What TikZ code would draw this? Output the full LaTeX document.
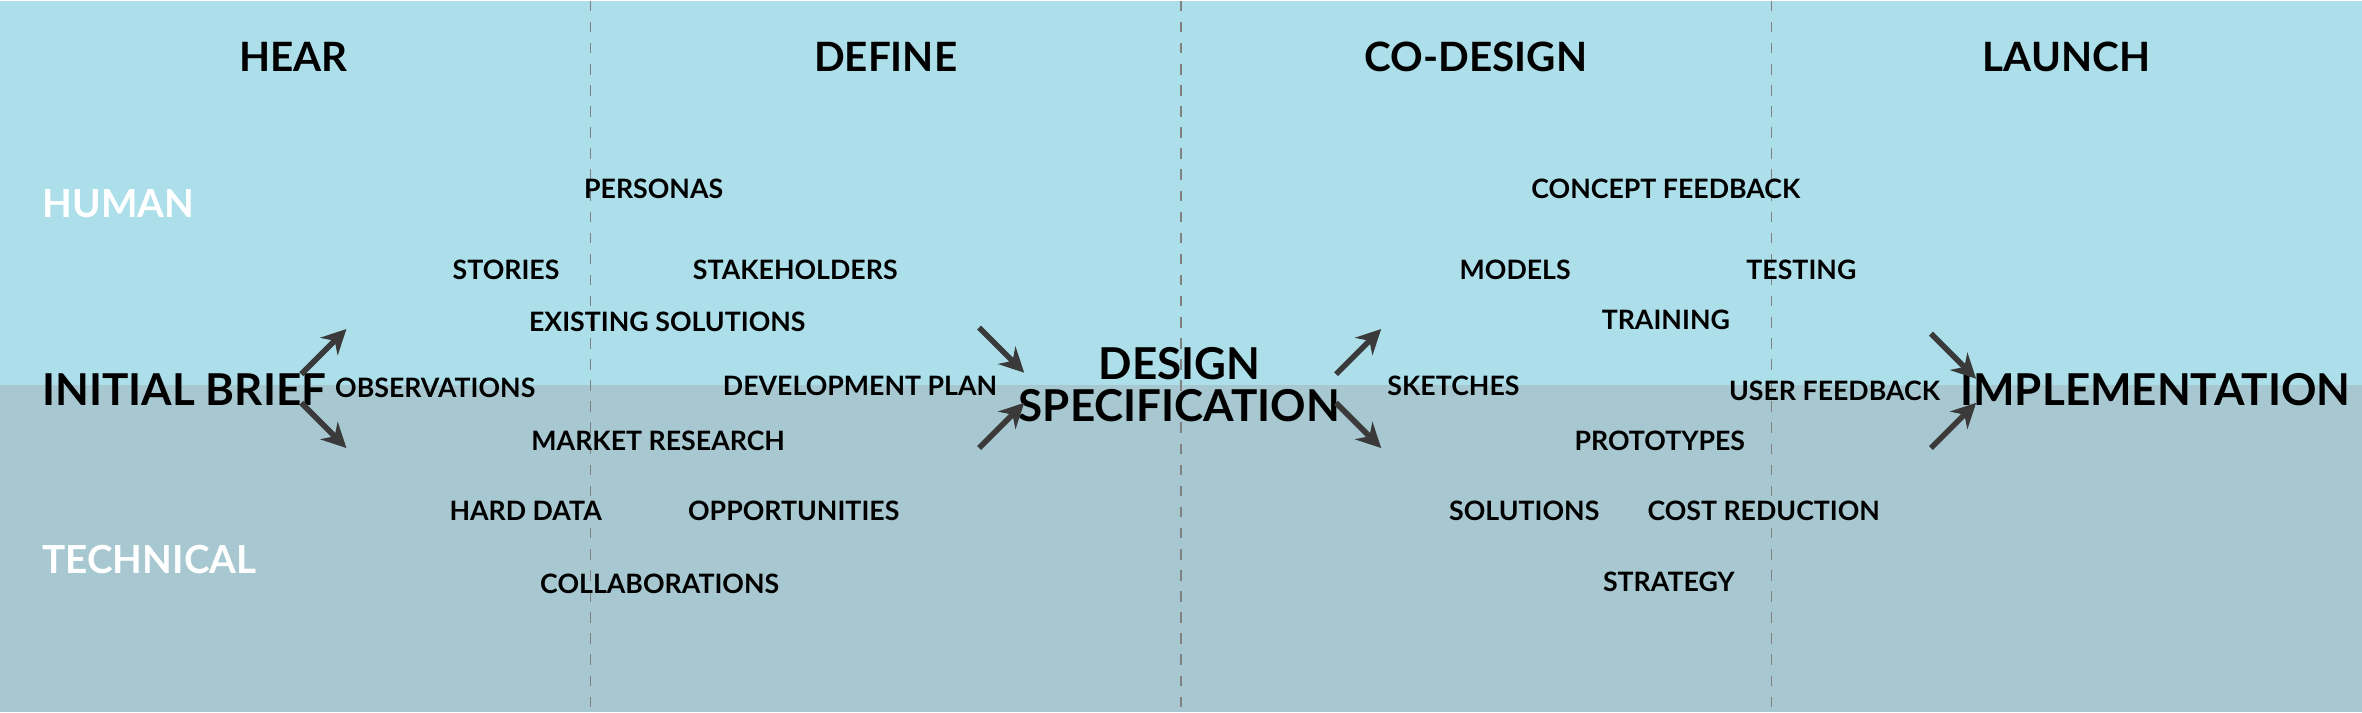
\documentclass[tikz,border=0pt]{standalone}
\usepackage{fontspec}
\setmainfont{Lato}
\usetikzlibrary{arrows.meta}
\definecolor{topblue}{HTML}{ADDFEA}
\definecolor{lowblue}{HTML}{A7C8D0}
\definecolor{arrowgray}{HTML}{3A3A3A}
\tikzset{
	phase/.style={font=\bfseries\fontsize{11.5}{12}\selectfont},
	item/.style={font=\bfseries\fontsize{7.6}{8}\selectfont},
	stage/.style={font=\bfseries\fontsize{12.5}{13}\selectfont},
	side/.style={font=\bfseries\fontsize{11}{12}\selectfont, text=white, anchor=west},
	flow/.style={-{Stealth[length=7pt,width=7pt]}, line width=1.6pt, arrowgray}
}
\begin{document}
\begin{tikzpicture}[x=0.015064cm, y=-0.015064cm]
\fill[topblue] (0,0) rectangle (1568,255);
\fill[lowblue] (0,255) rectangle (1568,472);
\foreach \x in {392,784,1176}
	\draw[gray, dashed] (\x,0) -- (\x,472);
% phases
\node[phase] (hear) at (195,37) {HEAR};
\node[phase] (define) at (588,37) {DEFINE};
\node[phase] (codesign) at (980,37) {CO-DESIGN};
\node[phase] (launch) at (1372,37) {LAUNCH};
\node[side] (human) at (20,135) {HUMAN};
\node[side] (technical) at (20,371) {TECHNICAL};
% stages
\node[stage, anchor=west] (brief) at (20,258) {INITIAL BRIEF};
\node[stage, align=center] (spec) at (783,255) {DESIGN\\[-1pt]SPECIFICATION};
\node[stage] (impl) at (1431,258) {IMPLEMENTATION};
% items
\foreach \txt/\x/\y in {PERSONAS/434/125, STORIES/336/179, STAKEHOLDERS/528/179,
	EXISTING SOLUTIONS/443/213, OBSERVATIONS/289/257, DEVELOPMENT PLAN/571/256,
	MARKET RESEARCH/437/292, HARD DATA/349/339, OPPORTUNITIES/527/339,
	COLLABORATIONS/438/387, CONCEPT FEEDBACK/1106/125, MODELS/1006/179,
	TESTING/1196/179, TRAINING/1106/212, SKETCHES/965/256, USER FEEDBACK/1218/259,
	PROTOTYPES/1102/292, SOLUTIONS/1012/339, COST REDUCTION/1171/339, STRATEGY/1108/386}
	\node[item] at (\x,\y) {\txt};
% arrows
\foreach \a/\b/\c/\d in {200/248/230/218, 200/267/230/297, 650/217/680/247, 650/297/680/267,
	887/248/917/218, 887/267/917/297, 1282/221/1312/251, 1282/297/1312/267}
{
	\coordinate (s) at (\a,\b);
	\coordinate (e) at (\c,\d);
	\draw[flow] (s) -- (e);
}
\end{tikzpicture}
\end{document}
